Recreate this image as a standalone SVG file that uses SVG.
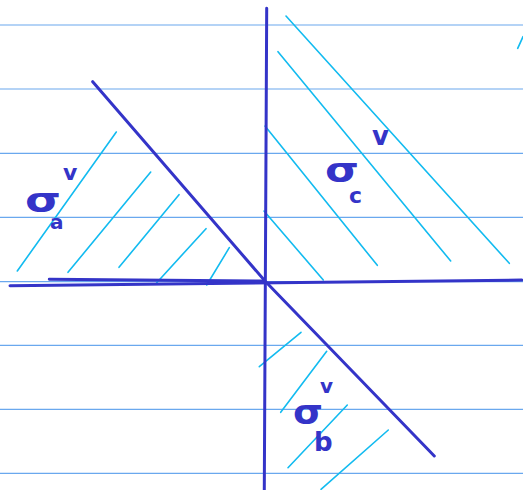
<svg xmlns="http://www.w3.org/2000/svg" width="523" height="490" viewBox="0 0 523 490">
<style>
.rule{stroke:#6aa8ee;stroke-width:1.2;fill:none}
.hatch{stroke:#12bbf0;stroke-width:1.6;fill:none;stroke-linecap:round}
.axis{stroke:#3434c8;stroke-width:3;fill:none;stroke-linecap:round;stroke-linejoin:round}
.lbl{font-family:"DejaVu Sans",sans-serif;font-weight:bold;fill:#3434c8}
</style>
<rect width="523" height="490" fill="#ffffff"/>
<g id="ruled-lines">
<line class="rule" x1="0" y1="25" x2="523" y2="25"/>
<line class="rule" x1="0" y1="89" x2="523" y2="89"/>
<line class="rule" x1="0" y1="153.3" x2="523" y2="153.3"/>
<line class="rule" x1="0" y1="217.3" x2="523" y2="217.3"/>
<line class="rule" x1="0" y1="281.7" x2="523" y2="281.7"/>
<line class="rule" x1="0" y1="345.3" x2="523" y2="345.3"/>
<line class="rule" x1="0" y1="409.3" x2="523" y2="409.3"/>
<line class="rule" x1="0" y1="473.3" x2="523" y2="473.3"/>
</g>
<g id="hatch-a">
<line class="hatch" x1="17.3" y1="271" x2="116.3" y2="132"/>
<line class="hatch" x1="68" y1="272.3" x2="150.7" y2="172"/>
<line class="hatch" x1="119" y1="267.3" x2="179" y2="194.7"/>
<line class="hatch" x1="156.7" y1="282.7" x2="206" y2="228.7"/>
<line class="hatch" x1="206.7" y1="285" x2="229.3" y2="247.7"/>
</g>
<g id="hatch-c">
<line class="hatch" x1="286" y1="16" x2="509.3" y2="263.3"/>
<line class="hatch" x1="278" y1="51.7" x2="450.7" y2="261"/>
<line class="hatch" x1="265" y1="126" x2="377.3" y2="265.3"/>
<line class="hatch" x1="264" y1="211" x2="323.3" y2="280"/>
<line class="hatch" x1="517.7" y1="48.3" x2="523" y2="36.7"/>
</g>
<g id="hatch-b">
<line class="hatch" x1="259.3" y1="366.7" x2="301" y2="332.3"/>
<line class="hatch" x1="280.7" y1="412.3" x2="326.7" y2="351.3"/>
<line class="hatch" x1="288" y1="467.7" x2="347.3" y2="405"/>
<line class="hatch" x1="321" y1="489.3" x2="388.3" y2="430"/>
</g>
<g id="axes">
<line class="axis" x1="266.7" y1="8.3" x2="264.3" y2="490"/>
<line class="axis" x1="10" y1="285.7" x2="521.7" y2="280"/>
<line class="axis" x1="49.3" y1="279.3" x2="263.3" y2="281"/>
<polyline class="axis" points="92.7,81.7 265,281 434.3,456"/>
</g>
<g id="label-a">
<text class="lbl" x="25" y="212" font-size="34" textLength="36" lengthAdjust="spacingAndGlyphs">σ</text>
<text class="lbl" x="50" y="229" font-size="20">a</text>
<text class="lbl" x="63" y="180" font-size="22">v</text>
</g>
<g id="label-c">
<text class="lbl" x="325" y="182" font-size="34" textLength="34" lengthAdjust="spacingAndGlyphs">σ</text>
<text class="lbl" x="349" y="203" font-size="22">c</text>
<text class="lbl" x="372" y="145" font-size="26">v</text>
</g>
<g id="label-b">
<text class="lbl" x="293" y="424" font-size="34" textLength="30" lengthAdjust="spacingAndGlyphs">σ</text>
<text class="lbl" x="320" y="393" font-size="20">v</text>
<text class="lbl" x="314" y="451" font-size="26">b</text>
</g>
</svg>
